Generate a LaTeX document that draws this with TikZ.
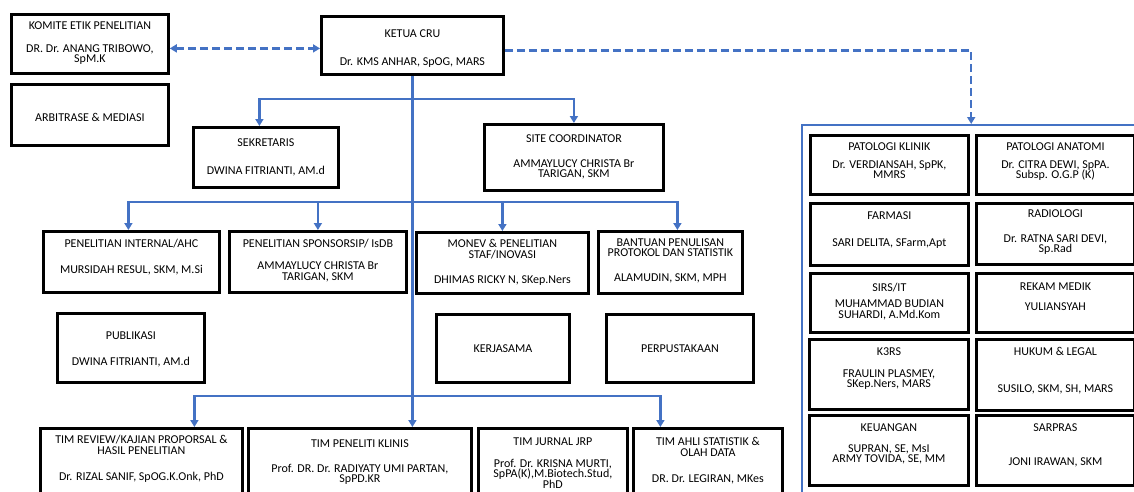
\documentclass[tikz,border=0pt]{standalone}
\usepackage{fontspec}
\setmainfont{Carlito}
\usetikzlibrary{arrows.meta,calc}
\definecolor{cblue}{HTML}{4472C4}
\newcommand{\Bx}[4]{\parbox[c][#2pt][t]{#1pt}{\lineskiplimit=-10pt\centering\vspace*{#3pt}#4\par}}
\begin{document}
\begin{tikzpicture}[x=1pt,y=-1pt,
  >={Triangle[length=7pt,width=8pt]},
  box/.style={draw=black, line width=2.8pt, inner sep=0pt, anchor=north west, fill=white,
    font=\fontsize{12}{10.5}\selectfont, text=black},
  panelbox/.style={draw=cblue, line width=2.4pt, inner sep=0pt, anchor=north west},
  conn/.style={draw=cblue, line width=2.4pt, ->},
  dsh/.style={draw=cblue, line width=2.4pt, dash pattern=on 8pt off 4pt}]
\useasboundingbox (0,0) rectangle (1134,491);
\clip (0,0) rectangle (1134,491);
\fill[white] (0,0) rectangle (1134,491);

% right panel
\node[panelbox, minimum width=340pt, minimum height=380pt] (panel) at (801,124) {};

% top
\node[box] (komite) at (10,13) {\Bx{157}{59}{7}{KOMITE ETIK PENELITIAN\\[12.5pt]DR. Dr. ANANG TRIBOWO,\\SpM.K}};
\node[box] (arb) at (10,83) {\Bx{157}{61}{29}{ARBITRASE \& MEDIASI}};
\node[box] (ketua) at (320,15) {\Bx{182}{58}{13}{KETUA CRU\\[17.5pt]Dr. KMS ANHAR, SpOG, MARS}};
\node[box] (sek) at (192,126) {\Bx{145}{60}{11}{SEKRETARIS\\[17.5pt]DWINA FITRIANTI, AM.d}};
\node[box] (site) at (483,123) {\Bx{179}{66}{10}{SITE COORDINATOR\\[14.5pt]AMMAYLUCY CHRISTA Br\\TARIGAN, SKM}};

% row 2
\node[box] (pi) at (42,230) {\Bx{176}{61}{8}{PENELITIAN INTERNAL/AHC\\[15.5pt]MURSIDAH RESUL, SKM, M.Si}};
\node[box] (ps) at (228,230) {\Bx{177}{61}{8}{PENELITIAN SPONSORSIP/ IsDB\\[11.5pt]AMMAYLUCY CHRISTA Br\\TARIGAN, SKM}};
\node[box] (monev) at (415,231) {\Bx{172}{61}{7}{MONEV \& PENELITIAN\\STAF/INOVASI\\[14.5pt]DHIMAS RICKY N, SKep.Ners}};
\node[box] (bantuan) at (597,230) {\Bx{144}{62}{7}{BANTUAN PENULISAN\\PROTOKOL DAN STATISTIK\\[14.5pt]ALAMUDIN, SKM, MPH}};

% row 3
\node[box] (pub) at (56,312) {\Bx{147}{69}{18}{PUBLIKASI\\[15.5pt]DWINA FITRIANTI, AM.d}};
\node[box] (kerja) at (435,313) {\Bx{133}{68}{30}{KERJASAMA}};
\node[box] (perpus) at (605,313) {\Bx{147}{68}{30}{PERPUSTAKAAN}};

% bottom row
\node[box] (tr) at (39,427) {\Bx{202}{73}{7}{TIM REVIEW/KAJIAN PROPORSAL \&\\HASIL PENELITIAN\\[15.5pt]Dr. RIZAL SANIF, SpOG.K.Onk, PhD}};
\node[box] (tpk) at (247,427) {\Bx{223}{73}{11}{TIM PENELITI KLINIS\\[14.5pt]Prof. DR. Dr. RADIYATY UMI PARTAN,\\SpPD.KR}};
\node[box] (tj) at (477,427) {\Bx{149}{73}{9}{TIM JURNAL JRP\\[11.5pt]Prof. Dr. KRISNA MURTI,\\SpPA(K),M.Biotech.Stud,\\PhD}};
\node[box] (ta) at (632,427) {\Bx{149}{73}{9}{TIM AHLI STATISTIK \&\\OLAH DATA\\[15.5pt]DR. Dr. LEGIRAN, MKes}};

% right panel boxes
\node[box] (pk) at (809,134) {\Bx{158}{59}{7}{PATOLOGI KLINIK\\[7.5pt]Dr. VERDIANSAH, SpPK,\\MMRS}};
\node[box] (pa) at (975,134) {\Bx{158}{59}{7}{PATOLOGI ANATOMI\\[7.5pt]Dr. CITRA DEWI, SpPA.\\Subsp. O.G.P (K)}};
\node[box] (farm) at (809,202) {\Bx{158}{62}{8}{FARMASI\\[16.5pt]SARI DELITA, SFarm,Apt}};
\node[box] (rad) at (975,202) {\Bx{158}{61}{6}{RADIOLOGI\\[14.5pt]Dr. RATNA SARI DEVI,\\Sp.Rad}};
\node[box] (sirs) at (809,272) {\Bx{158}{59}{10}{SIRS/IT\\[5.5pt]MUHAMMAD BUDIAN\\SUHARDI, A.Md.Kom}};
\node[box] (rekam) at (975,272) {\Bx{158}{59}{9}{REKAM MEDIK\\[9.5pt]YULIANSYAH}};
\node[box] (k3rs) at (808,338) {\Bx{159}{70}{8}{K3RS\\[11.5pt]FRAULIN PLASMEY,\\SKep.Ners, MARS}};
\node[box] (hukum) at (975,338) {\Bx{158}{71}{8}{HUKUM \& LEGAL\\[26.5pt]SUSILO, SKM, SH, MARS}};
\node[box] (keu) at (808,414) {\Bx{159}{70}{8}{KEUANGAN\\[10.5pt]SUPRAN, SE, MsI\\ARMY TOVIDA, SE, MM}};
\node[box] (sar) at (975,414) {\Bx{158}{70}{8}{SARPRAS\\[23.5pt]JONI IRAWAN, SKM}};

% junctions on the spine
\coordinate (j1) at (411,99);
\coordinate (j2) at (411,202);
\coordinate (j3) at (411,396);

% connectors
\draw[conn] (ketua.south) -- ([xshift=52.5pt]tpk.north);
\draw[conn] (j1) -| ([xshift=-6.5pt]sek.north);
\draw[conn] (j1) -| (site.north);
\draw[conn] (j2) -| ([xshift=-3pt]pi.north);
\draw[conn] (j2) -| (ps.north);
\draw[conn] (j2) -| (monev.north);
\draw[conn] (j2) -| ([xshift=7pt]bantuan.north);
\draw[conn] (j3) -| ([xshift=53pt]tr.north);
\draw[conn] (j3) -| ([xshift=-47.5pt]ta.north);

\draw[dsh,<->] ([yshift=-4.5pt]komite.east) -- ([yshift=-4.5pt]komite.east -| ketua.west);
\draw[dsh,->] ([yshift=-5pt]ketua.east) -| ([xshift=-1pt]panel.north);
\end{tikzpicture}
\end{document}
